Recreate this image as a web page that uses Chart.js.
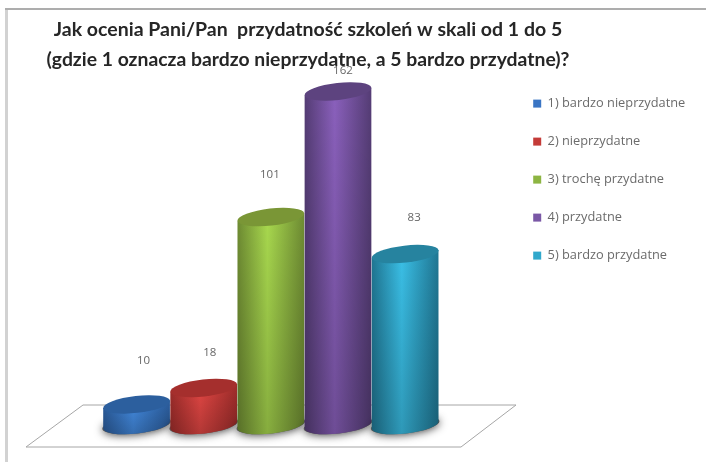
<!DOCTYPE html>
<html lang="pl">
<head>
<meta charset="utf-8">
<title>Przydatność szkoleń</title>
<script src="https://cdn.jsdelivr.net/npm/chart.js@4/dist/chart.umd.min.js"></script>
<style>
  html, body { margin: 0; padding: 0; background: #fff; }
  #wrap { width: 706px; height: 462px; }
</style>
</head>
<body>
<div id="wrap"><canvas id="ratingChart" width="706" height="462"></canvas></div>
<script>
const answers = ['1) bardzo nieprzydatne', '2) nieprzydatne', '3) trochę przydatne', '4) przydatne', '5) bardzo przydatne'];
const counts = [10, 18, 101, 162, 83];
const titleLines = ['Jak ocenia Pani/Pan  przydatność szkoleń w skali od 1 do 5', '(gdzie 1 oznacza bardzo nieprzydatne, a 5 bardzo przydatne)?'];

// swatch colour, then cylinder lid / edge / centre colours
const swatchColors = ['#3a75c4', '#c43b38', '#8db542', '#7a58a6', '#30a8cc'];
const lidColors = ['#2c5f9e', '#a52f2d', '#7a9636', '#5d437f', '#26839f'];
const edgeColors = ['#2a5a98', '#9c2c2a', '#6d8a32', '#543c74', '#1f7591'];
const centreColors = ['#4288dc', '#e04643', '#a8d84e', '#8a60bc', '#3abfe6'];

// how far each value label sits from its cylinder lid
const labelShift = [[7, -44], [6, -35], [-1, -42], [5, -21], [9, -36]];

const TILT = 6.5 * Math.PI / 180;
const LID_RY = 8.5;

function cylinder(ctx, bar, i) {
  const rx = bar.width / 2;
  const dx = rx * Math.cos(TILT);
  const dy = rx * Math.sin(TILT);
  const { x, y, base } = bar;

  // soft shadow on the floor
  ctx.save();
  ctx.shadowColor = 'rgba(0,0,0,0.75)';
  ctx.shadowBlur = 9;
  ctx.shadowOffsetY = 1;
  ctx.fillStyle = '#555';
  ctx.beginPath();
  ctx.ellipse(x, base, rx + 1, LID_RY, -TILT, 0, Math.PI * 2);
  ctx.fill();
  ctx.restore();

  const side = ctx.createLinearGradient(x - rx, 0, x + rx, 0);
  side.addColorStop(0, edgeColors[i]);
  side.addColorStop(0.45, centreColors[i]);
  side.addColorStop(1, edgeColors[i]);

  ctx.fillStyle = side;
  ctx.beginPath();
  ctx.moveTo(x - dx, y + dy);
  ctx.lineTo(x + dx, y - dy);
  ctx.lineTo(x + dx, base - dy);
  ctx.ellipse(x, base, rx, LID_RY, -TILT, 0, Math.PI);
  ctx.closePath();
  ctx.fill();

  // darker towards the floor
  const fade = ctx.createLinearGradient(0, y, 0, base + LID_RY);
  fade.addColorStop(0, 'rgba(0,0,0,0)');
  fade.addColorStop(1, 'rgba(0,0,0,0.2)');
  ctx.fillStyle = fade;
  ctx.fill();

  ctx.fillStyle = lidColors[i];
  ctx.beginPath();
  ctx.ellipse(x, y, rx, LID_RY, -TILT, 0, Math.PI * 2);
  ctx.fill();
}

const cylinderPlugin = {
  id: 'cylinders',
  beforeDraw(chart) {
    // outer frame, top and left edges only
    const { ctx, width, height } = chart;
    ctx.save();
    ctx.fillStyle = '#adadad';
    ctx.fillRect(5, 8, width - 5, 2);
    ctx.fillStyle = '#d2d2d2';
    ctx.fillRect(5, 10, 3, height - 10);
    ctx.restore();
  },
  beforeDatasetsDraw(chart) {
    const { ctx, scales } = chart;
    const left = scales.x.left;
    const zero = scales.y.getPixelForValue(0);

    // floor of the plot
    ctx.save();
    ctx.strokeStyle = '#a6a6a6';
    ctx.lineWidth = 1;
    ctx.beginPath();
    ctx.moveTo(left - 20, zero - 20);
    ctx.lineTo(left + 413, zero - 20);
    ctx.lineTo(left + 358, zero + 22);
    ctx.lineTo(left - 77, zero + 22);
    ctx.closePath();
    ctx.stroke();

    counts.forEach((value, i) => {
      cylinder(ctx, chart.getDatasetMeta(i).data[0], i);
    });

    ctx.font = '11.5px "Open Sans"';
    ctx.fillStyle = '#666666';
    ctx.textAlign = 'center';
    ctx.textBaseline = 'middle';
    counts.forEach((value, i) => {
      const bar = chart.getDatasetMeta(i).data[0];
      ctx.fillText(value, bar.x + labelShift[i][0], bar.y + labelShift[i][1]);
    });
    ctx.restore();
    return false;
  }
};

// title sits left of the canvas centre, legend has its own column on the right
const placementPlugin = {
  id: 'placement',
  afterLayout(chart) {
    const title = chart.titleBlock;
    const titleCentre = (title.left + title.right) / 2;
    title.left += 308 - titleCentre;
    title.right += 308 - titleCentre;
    const legend = chart.legend;
    const h = legend.height;
    legend.left = 508;
    legend.right = 706;
    legend.top = 72;
    legend.bottom = legend.top + h + 40;
  }
};

new Chart(document.getElementById('ratingChart').getContext('2d'), {
  type: 'bar',
  data: {
    labels: [''],
    datasets: answers.map((answer, i) => ({
      label: answer,
      data: [counts[i]],
      backgroundColor: swatchColors[i],
      barPercentage: 1,
      categoryPercentage: 1
    }))
  },
  options: {
    responsive: false,
    animation: false,
    layout: { padding: { left: 103, right: 80, top: 0, bottom: 37 } },
    scales: {
      x: { display: false },
      y: { display: false, min: 0, max: 170 }
    },
    plugins: {
      tooltip: { enabled: false },
      title: {
        display: true,
        text: titleLines,
        color: '#262626',
        font: { family: 'Lato', size: 19.5, weight: '700', lineHeight: 1.538 },
        padding: { top: 15, bottom: 0 }
      },
      legend: {
        position: 'right',
        align: 'start',
        labels: {
          color: '#6b6b6b',
          boxWidth: 8,
          boxHeight: 8,
          padding: 25.2,
          font: { family: '"Open Sans"', size: 12.8 }
        }
      }
    }
  },
  plugins: [cylinderPlugin, placementPlugin]
});
</script>
</body>
</html>
